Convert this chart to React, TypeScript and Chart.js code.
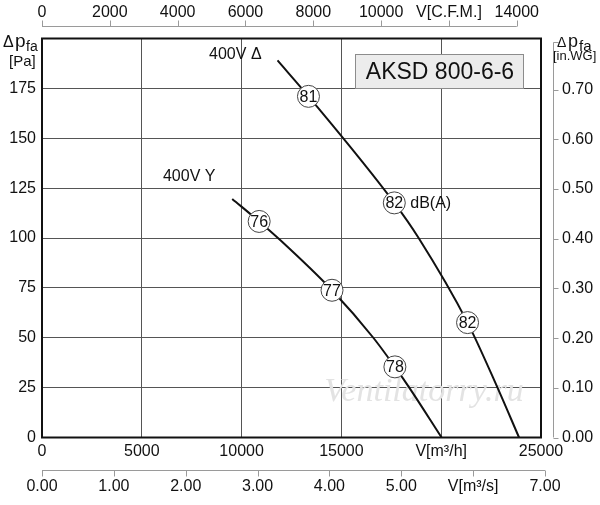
import { useEffect, useRef } from 'react';
import { Chart, registerables } from 'chart.js';

Chart.register(...registerables);

const FONT = '"Liberation Sans", Arial, Helvetica, sans-serif';
Chart.defaults.font.family = FONT;

// 400V Δ curve: flow [m³/h], pressure [Pa]
const deltaFlow = [11800, 13350, 17650, 18870, 21320, 22820, 23900];
const deltaPressure = [189, 171, 117.6, 100, 57.6, 25, 0];

// 400V Y curve
const starFlow = [9530, 10880, 11820, 14530, 16600, 17680, 18400, 20020];
const starPressure = [119.6, 108.3, 100, 73.8, 50, 35.4, 25, 0];

// sound level markers, dB(A)
const deltaNoiseFlow = [13350, 17650, 21320];
const deltaNoisePressure = [171, 117.6, 57.6];
const deltaNoiseLabels = ['81', '82', '82'];
const starNoiseFlow = [10880, 14530, 17680];
const starNoisePressure = [108.3, 73.8, 35.4];
const starNoiseLabels = ['76', '77', '78'];

// axes
const flowTicks = [0, 5000, 10000, 15000, 20000, 25000];
const flowTickLabels = ['0', '5000', '10000', '15000', 'V[m³/h]', '25000'];
const pressureTicks = [0, 25, 50, 75, 100, 125, 150, 175];
const cfmTicks = [0, 2000, 4000, 6000, 8000, 10000, 12000, 14000];
const cfmTickLabels = ['0', '2000', '4000', '6000', '8000', '10000', 'V[C.F.M.]', '14000'];
const m3sTicks = [0, 1, 2, 3, 4, 5, 6, 7];
const m3sTickLabels = ['0.00', '1.00', '2.00', '3.00', '4.00', '5.00', 'V[m³/s]', '7.00'];
const inwgTicks = [0, 0.1, 0.2, 0.3, 0.4, 0.5, 0.6, 0.7];
const inwgTickLabels = ['0.00', '0.10', '0.20', '0.30', '0.40', '0.50', '0.60', '0.70'];

const FLOW_MAX = 25000;
const PRESSURE_MAX = 200;
const CFM_PER_M3H = 0.588578;
const INWG_PER_PA = 0.00401463;

const toPoints = (xs: number[], ys: number[]) => xs.map((x, i) => ({ x, y: ys[i] }));

const decorPlugin = {
  id: 'fanDecor',
  beforeDatasetsDraw(chart: any) {
    const { ctx } = chart;
    ctx.save();
    // watermark
    ctx.font = 'italic 34px "Liberation Serif", "DejaVu Serif", serif';
    ctx.fillStyle = '#e3e3e3';
    ctx.textAlign = 'center';
    ctx.textBaseline = 'middle';
    ctx.fillText('Ventilatorry.ru', 424, 392);

    // title box
    ctx.fillStyle = '#ececec';
    ctx.fillRect(355.5, 54.5, 168, 34);
    ctx.strokeStyle = '#8c8c8c';
    ctx.lineWidth = 1;
    ctx.strokeRect(355.5, 54.5, 168, 34);
    ctx.fillStyle = '#111';
    ctx.font = `23px ${FONT}`;
    ctx.fillText('AKSD 800-6-6', 440, 72.5);
    ctx.restore();
  },
  afterDatasetsDraw(chart: any) {
    const { ctx, chartArea, scales } = chart;
    const { x, y, x2, x3, y2 } = scales;
    ctx.save();

    // frame
    ctx.strokeStyle = '#111';
    ctx.lineWidth = 2;
    ctx.strokeRect(chartArea.left, chartArea.top, chartArea.right - chartArea.left, chartArea.bottom - chartArea.top);

    // secondary axis lines
    ctx.strokeStyle = '#9a9a9a';
    ctx.lineWidth = 1;
    ctx.beginPath();
    const topY = 26.5;
    ctx.moveTo(x2.getPixelForValue(0), topY);
    ctx.lineTo(x2.getPixelForValue(cfmTicks[cfmTicks.length - 1]), topY);
    cfmTicks.forEach((v) => {
      const px = Math.round(x2.getPixelForValue(v)) + 0.5;
      ctx.moveTo(px, topY);
      ctx.lineTo(px, topY - 6);
    });
    const botY = 470.5;
    ctx.moveTo(x3.getPixelForValue(0), botY);
    ctx.lineTo(x3.getPixelForValue(m3sTicks[m3sTicks.length - 1]), botY);
    m3sTicks.forEach((v) => {
      const px = Math.round(x3.getPixelForValue(v)) + 0.5;
      ctx.moveTo(px, botY);
      ctx.lineTo(px, botY + 6);
    });
    const rightX = 553.5;
    ctx.moveTo(rightX, y2.getPixelForValue(0.795));
    ctx.lineTo(rightX, y2.getPixelForValue(0));
    [...inwgTicks, 0.795].forEach((v) => {
      const py = Math.round(y2.getPixelForValue(v)) + 0.5;
      ctx.moveTo(rightX, py);
      ctx.lineTo(rightX + 5, py);
    });
    ctx.stroke();

    // marker numbers
    ctx.fillStyle = '#111';
    ctx.font = `16px ${FONT}`;
    ctx.textAlign = 'center';
    ctx.textBaseline = 'middle';
    const markerSets: [number, string[]][] = [
      [0, deltaNoiseLabels],
      [1, starNoiseLabels],
    ];
    markerSets.forEach(([idx, labels]) => {
      chart.getDatasetMeta(idx).data.forEach((pt: any, i: number) => {
        ctx.fillText(labels[i], pt.x, pt.y + 1);
      });
    });

    // curve captions
    ctx.font = `16px ${FONT}`;
    ctx.textAlign = 'left';
    ctx.fillText('400V Δ', x.getPixelForValue(8370), y.getPixelForValue(192));
    ctx.fillText('400V Y', x.getPixelForValue(6060), y.getPixelForValue(131));
    const dbPt = chart.getDatasetMeta(0).data[1];
    ctx.fillText('dB(A)', dbPt.x + 16, dbPt.y + 1);

    // axis titles
    ctx.textBaseline = 'alphabetic';
    ctx.font = `16px ${FONT}`;
    ctx.fillText('Δ', 3, 47);
    ctx.font = `19px ${FONT}`;
    ctx.fillText('p', 15, 47);
    ctx.font = `14px ${FONT}`;
    ctx.fillText('fa', 26, 51);
    ctx.font = `15px ${FONT}`;
    ctx.fillText('[Pa]', 9, 66);

    ctx.font = `14px ${FONT}`;
    ctx.fillText('Δ', 557, 47);
    ctx.font = `18px ${FONT}`;
    ctx.fillText('p', 568, 47);
    ctx.font = `15px ${FONT}`;
    ctx.fillText('fa', 579, 51);
    ctx.font = `13px ${FONT}`;
    ctx.fillText('[in.WG]', 553, 60);

    ctx.restore();
  },
};

const tickFont = { size: 16 };
const hiddenGrid = { display: false, drawTicks: false };

const App: React.FC = () => {
  const canvasRef = useRef<HTMLCanvasElement>(null);
  const chartRef = useRef<Chart | null>(null);

  useEffect(() => {
    if (!canvasRef.current) return;
    const ctx = canvasRef.current.getContext('2d');
    if (!ctx) return;

    chartRef.current = new Chart(ctx, {
      type: 'line',
      data: {
        datasets: [
          {
            label: 'noise Δ',
            data: toPoints(deltaNoiseFlow, deltaNoisePressure),
            showLine: false,
            pointRadius: 11,
            pointHoverRadius: 11,
            pointBackgroundColor: '#fff',
            pointBorderColor: '#444',
            pointBorderWidth: 1,
          },
          {
            label: 'noise Y',
            data: toPoints(starNoiseFlow, starNoisePressure),
            showLine: false,
            pointRadius: 11,
            pointHoverRadius: 11,
            pointBackgroundColor: '#fff',
            pointBorderColor: '#444',
            pointBorderWidth: 1,
          },
          {
            label: '400V Δ',
            data: toPoints(deltaFlow, deltaPressure),
            borderColor: '#111',
            borderWidth: 2,
            pointRadius: 0,
            cubicInterpolationMode: 'monotone',
            fill: false,
          },
          {
            label: '400V Y',
            data: toPoints(starFlow, starPressure),
            borderColor: '#111',
            borderWidth: 2,
            pointRadius: 0,
            cubicInterpolationMode: 'monotone',
            fill: false,
          },
        ],
      },
      options: {
        responsive: false,
        animation: false,
        events: [],
        layout: { padding: 0 },
        plugins: { legend: { display: false }, tooltip: { enabled: false } },
        scales: {
          x: {
            type: 'linear',
            position: 'bottom',
            min: 0,
            max: FLOW_MAX,
            afterBuildTicks: (s: any) => { s.ticks = flowTicks.map((value) => ({ value })); },
            afterFit: (s: any) => { s.height = 24; },
            ticks: {
              callback: (_v: any, i: number) => flowTickLabels[i],
              autoSkip: false, maxRotation: 0, minRotation: 0,
              padding: 4, color: '#111', font: tickFont,
            },
            grid: { color: '#555', lineWidth: 1, drawTicks: false },
            border: { display: false },
          },
          x3: {
            type: 'linear',
            position: 'bottom',
            weight: 1,
            min: 0,
            max: FLOW_MAX / 3600,
            afterBuildTicks: (s: any) => { s.ticks = m3sTicks.map((value) => ({ value })); },
            afterFit: (s: any) => { s.height = 43.5; },
            ticks: {
              callback: (_v: any, i: number) => m3sTickLabels[i],
              autoSkip: false, maxRotation: 0, minRotation: 0,
              padding: 15, color: '#111', font: tickFont,
            },
            grid: hiddenGrid,
            border: { display: false },
          },
          x2: {
            type: 'linear',
            position: 'top',
            min: 0,
            max: FLOW_MAX * CFM_PER_M3H,
            afterBuildTicks: (s: any) => { s.ticks = cfmTicks.map((value) => ({ value })); },
            afterFit: (s: any) => { s.height = 38.5; },
            ticks: {
              callback: (_v: any, i: number) => cfmTickLabels[i],
              autoSkip: false, maxRotation: 0, minRotation: 0,
              padding: 16, color: '#111', font: tickFont,
            },
            grid: hiddenGrid,
            border: { display: false },
          },
          y: {
            type: 'linear',
            position: 'left',
            min: 0,
            max: PRESSURE_MAX,
            afterBuildTicks: (s: any) => { s.ticks = pressureTicks.map((value) => ({ value })); },
            afterFit: (s: any) => { s.width = 42; },
            ticks: { padding: 6, color: '#111', font: tickFont },
            grid: { color: '#555', lineWidth: 1, drawTicks: false },
            border: { display: false },
          },
          y2: {
            type: 'linear',
            position: 'right',
            min: 0,
            max: PRESSURE_MAX * INWG_PER_PA,
            afterBuildTicks: (s: any) => { s.ticks = inwgTicks.map((value) => ({ value })); },
            afterFit: (s: any) => { s.width = 59; },
            ticks: {
              callback: (_v: any, i: number) => inwgTickLabels[i],
              padding: 21, color: '#111', font: tickFont,
            },
            grid: hiddenGrid,
            border: { display: false },
          },
        },
      } as any,
      plugins: [decorPlugin],
    });

    return () => {
      chartRef.current?.destroy();
      chartRef.current = null;
    };
  }, []);

  return (
    <div style={{ position: 'absolute', left: 0, top: 0, width: 600, height: 505, background: '#fff' }}>
      <canvas ref={canvasRef} width={600} height={505} />
    </div>
  );
};

export default App;
